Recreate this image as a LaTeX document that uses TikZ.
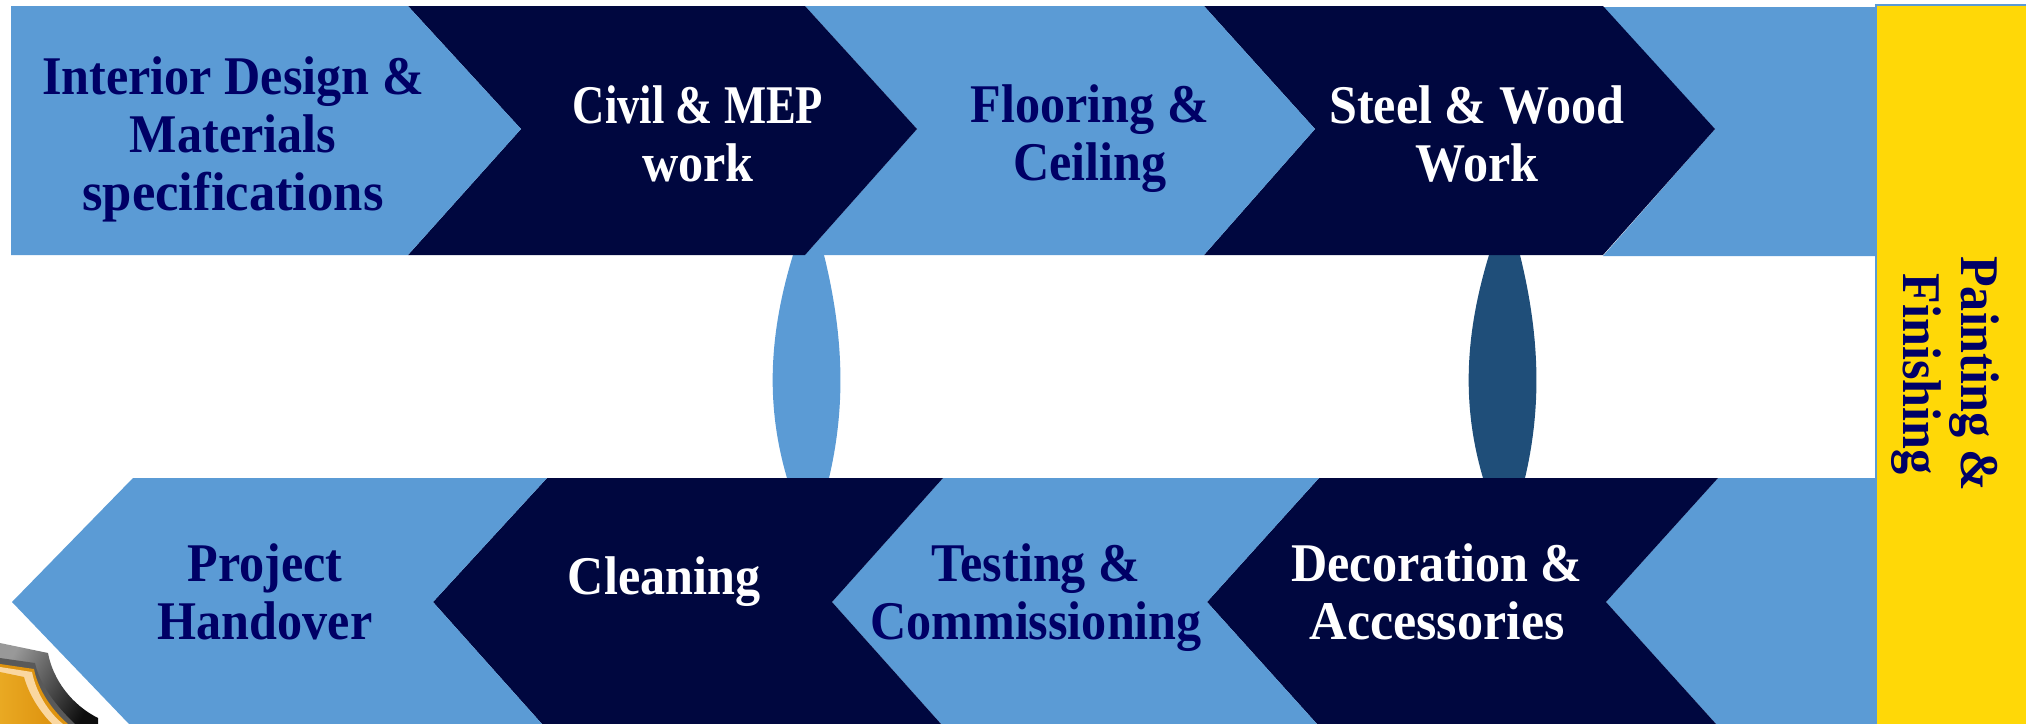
\documentclass[tikz,border=0pt]{standalone}
\usepackage{fontspec}
\setmainfont[FakeStretch=0.92]{Liberation Serif}
\definecolor{lightblue}{HTML}{5B9BD5}
\definecolor{darknavy}{HTML}{00073F}
\definecolor{textnavy}{HTML}{000066}
\definecolor{lensblue}{HTML}{1F4E79}
\definecolor{signyellow}{HTML}{FFD807}
\definecolor{badgegold}{HTML}{E9A923}
\definecolor{badgedeep}{HTML}{DE930F}
\definecolor{badgecream}{HTML}{FAD7A0}
\begin{document}
\begin{tikzpicture}
    [x=0.01cm, y=-0.01cm,
    light/.style={fill=lightblue},
    dark/.style={fill=darknavy},
    label/.style={font=\bfseries\fontsize{15.5}{16.5}\selectfont, align=center, inner sep=0pt},
    ontext/.style={label, text=white},
    offtext/.style={label, text=textnavy}]

    \useasboundingbox (0,0) rectangle (2026,724);
    \clip (0,0) rectangle (2026,724);

    % lenses go under the rows
    \fill[light] (795,250) -- (793,255) .. controls (767,340) and (767,410) .. (787,478) -- (787,482) -- (829,482) -- (829,478) .. controls (845,410) and (845,340) .. (824,255) -- (822,250) -- cycle;
    \fill[fill=lensblue] (1491,250) -- (1489,255) .. controls (1463,340) and (1463,410) .. (1483,478) -- (1483,482) -- (1525,482) -- (1525,478) .. controls (1541,410) and (1541,340) .. (1520,255) -- (1518,250) -- cycle;

    % top row
    \fill[light] (1603,7) -- (1876,7) -- (1876,256) -- (1603,256) -- (1715,129) -- cycle;
    \fill[dark] (1204,6) -- (1603,6) -- (1715,129) -- (1603,255) -- (1204,255) -- (1315,129) -- cycle;
    \fill[light] (805,6) -- (1204,6) -- (1315,129) -- (1204,255) -- (805,255) -- (917,129) -- cycle;
    \fill[dark] (408,6) -- (805,6) -- (917,129) -- (805,255) -- (408,255) -- (521,129) -- cycle;
    \fill[light] (11,6) -- (408,6) -- (521,129) -- (408,255) -- (11,255) -- cycle;

    % bottom row
    \fill[light] (1718,478) -- (1876,478) -- (1876,724) -- (1716,724) -- (1606,602) -- cycle;
    \fill[dark] (1319,478) -- (1718,478) -- (1606,602) -- (1716,724) -- (1317,724) -- (1207,602) -- cycle;
    \fill[light] (943,478) -- (1319,478) -- (1207,602) -- (1317,724) -- (941,724) -- (832,602) -- cycle;
    \fill[dark] (547,478) -- (943,478) -- (832,602) -- (941,724) -- (542,724) -- (433,602) -- cycle;
    \fill[light] (133,478) -- (547,478) -- (433,602) -- (542,724) -- (129,724) -- (12,602) -- cycle;

    % side bar
    \fill[signyellow, draw=lightblue] (1876,5) rectangle (2030,730);

    % badge in the corner
    \shade[left color=black!40, right color=black!95, shading angle=60] (0,643) -- (48,653) .. controls (53,680) and (72,705) .. (98,718) -- (98,724) -- (0,724) -- cycle;
    \fill[black!65] (0,658) -- (35,663) .. controls (40,685) and (55,705) .. (75,724) -- (0,724) -- cycle;
    \fill[badgedeep] (0,664) -- (34,669) .. controls (38,690) and (52,710) .. (68,724) -- (0,724) -- cycle;
    \fill[badgecream] (0,667) -- (32,672) .. controls (36,692) and (48,712) .. (63,724) -- (0,724) -- cycle;
    \shade[left color=badgegold, right color=badgedeep] (0,672) -- (24,677) .. controls (29,695) and (40,712) .. (52,724) -- (0,724) -- cycle;

    \node[offtext] (design) at (233,139) {Interior Design \&\\Materials\\\scalebox{1.05}[1]{specifications}};
    \node[ontext] (civil) at (698,134) {\scalebox{0.89}[1]{Civil \& MEP}\\work};
    \node[offtext] (flooring) at (1090,139) {Flooring \&\\Ceiling};
    \node[ontext] (steel) at (1477,134) {Steel \& Wood\\Work};
    \node[offtext] (handover) at (265,592) {Project\\Handover};
    \node[ontext] (cleaning) at (664,582) {Cleaning};
    \node[offtext] (testing) at (1036,598) {Testing \&\\Commissioning};
    \node[ontext] (decoration) at (1437,592) {Decoration \&\\\scalebox{1.04}[1]{Accessories}};
    \node[offtext, rotate=-90] (painting) at (1945,374) {Painting \&\\Finishing};

\end{tikzpicture}
\end{document}
